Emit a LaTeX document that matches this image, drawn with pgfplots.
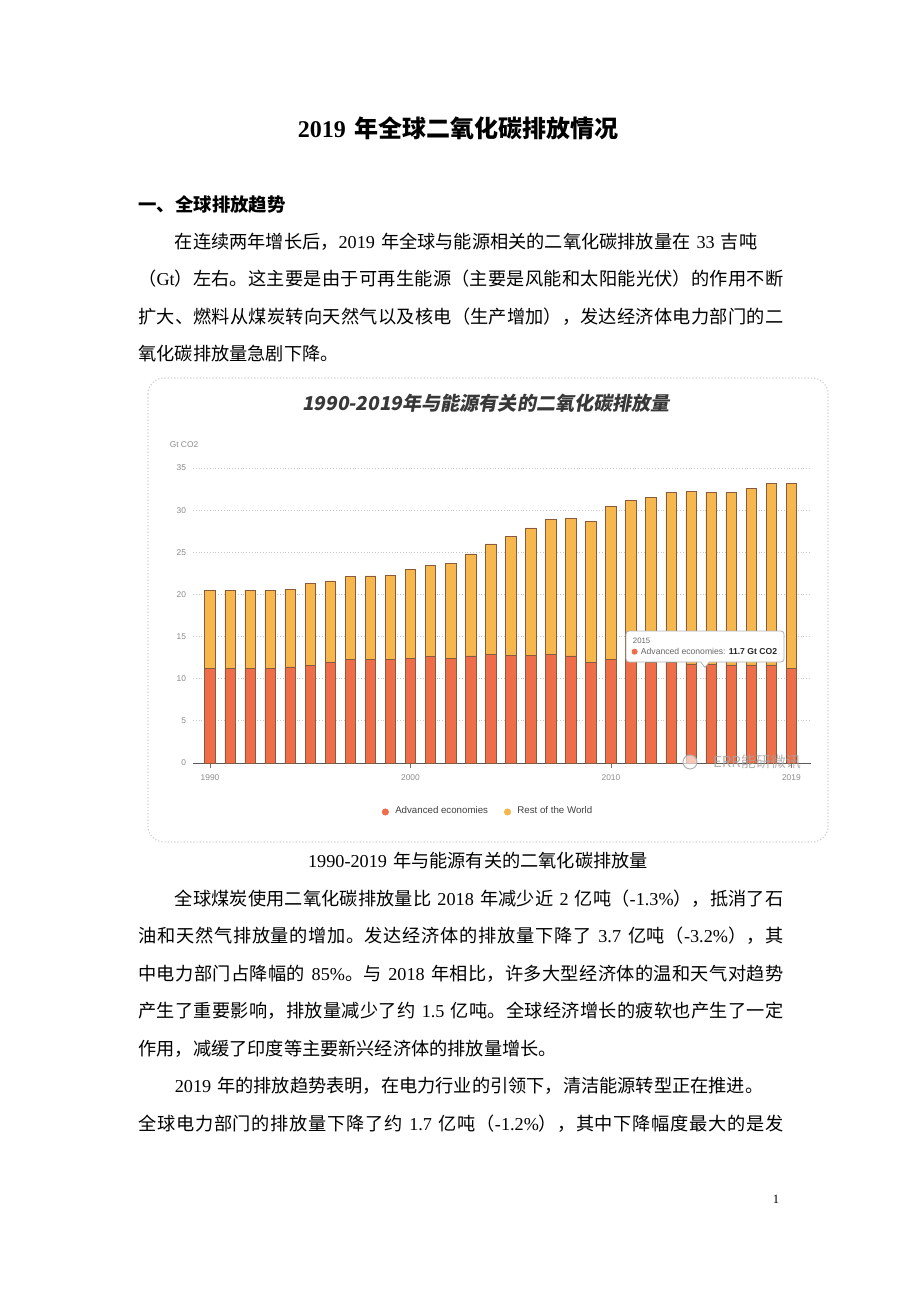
\documentclass[border=0pt]{standalone}
\usepackage{fontspec}
\usepackage{pgfplots}
\pgfplotsset{compat=1.18}
\usepackage{pgfplotstable}
\setmainfont{Noto Sans CJK SC}[WordSpace=1.5]
\newfontfamily\latin{Liberation Serif}
\newfontfamily\chartfont{Liberation Sans}
\newfontfamily\titlecjk[FakeSlant=0.18]{Noto Sans CJK SC}
\newcommand\lt[1]{{\latin #1}}
\XeTeXlinebreaklocale "zh"
\XeTeXlinebreakskip=0pt plus 1.5pt

\definecolor{advcol}{HTML}{EE6E4A}
\definecolor{restcol}{HTML}{F6B74C}
\definecolor{barline}{HTML}{8A5A3C}

\pgfplotstableread{
year adv rest
1990 11.2 9.3
1991 11.2 9.3
1992 11.2 9.3
1993 11.2 9.3
1994 11.4 9.2
1995 11.6 9.7
1996 12.0 9.6
1997 12.25 9.85
1998 12.25 9.95
1999 12.25 10.05
2000 12.45 10.55
2001 12.65 10.75
2002 12.45 11.25
2003 12.7 12.1
2004 12.85 13.15
2005 12.8 14.1
2006 12.8 15.1
2007 12.9 16.0
2008 12.7 16.3
2009 11.9 16.8
2010 12.3 18.1
2011 12.2 19.0
2012 12.0 19.5
2013 12.0 20.15
2014 11.75 20.45
2015 11.7 20.45
2016 11.65 20.5
2017 11.65 20.95
2018 11.65 21.55
2019 11.2 22.0
}\emissions

\begin{document}
\begin{tikzpicture}
\begin{scope}[x=0.5pt,y=-0.5pt]
\path[use as bounding box] (0,0) rectangle (920,1302);
\fill[white] (0,0) rectangle (920,1302);
% page title
\node[anchor=base, inner sep=0pt] at (458,137) {\fontsize{12}{14}\selectfont\bfseries {\latin\bfseries 2019} 年全球二氧化碳排放情况};
% heading
\node[anchor=base west, inner sep=0pt] at (138,211) {\fontsize{9.2}{11}\selectfont\bfseries 一、全球排放趋势};
% paragraph 1
\node[anchor=north west, inner sep=0pt, text width=322.5pt, align=justify] at (138,221.75) {\fontsize{9.1}{18.75}\selectfont\strut\hspace*{2em}在连续两年增长后，\lt{2019} 年全球与能源相关的二氧化碳排放量在 \lt{33} 吉吨\\
（\lt{Gt}）左右。这主要是由于可再生能源（主要是风能和太阳能光伏）的作用不断\linebreak
扩大、燃料从煤炭转向天然气以及核电（生产增加），发达经济体电力部门的二\linebreak
氧化碳排放量急剧下降。\par};
% chart frame
\draw[black!18, densely dotted, rounded corners=8pt, line width=0.6pt] (148,378) rectangle (828,842);
\node[text=black!78] at (486,403) {\titlecjk\bfseries\fontsize{9.55}{11}\selectfont 1990-2019年与能源有关的二氧化碳排放量};
\node[text=black!45] at (184,445) {\chartfont\fontsize{4.2}{5}\selectfont Gt CO2};
% caption
\node[anchor=base, inner sep=0pt] at (478,867) {\fontsize{9.1}{11}\selectfont\lt{1990-2019} 年与能源有关的二氧化碳排放量};
% paragraph 2
\node[anchor=north west, inner sep=0pt, text width=322.5pt, align=justify] at (138,878.75) {\fontsize{9.1}{18.75}\selectfont\strut\hspace*{2em}全球煤炭使用二氧化碳排放量比 \lt{2018} 年减少近 \lt{2} 亿吨（\lt{-1.3\%}），抵消了石\linebreak
油和天然气排放量的增加。发达经济体的排放量下降了 \lt{3.7} 亿吨（\lt{-3.2\%}），其\linebreak
中电力部门占降幅的 \lt{85\%}。与 \lt{2018} 年相比，许多大型经济体的温和天气对趋势\linebreak
产生了重要影响，排放量减少了约 \lt{1.5} 亿吨。全球经济增长的疲软也产生了一定\linebreak
作用，减缓了印度等主要新兴经济体的排放量增长。\par
\hspace*{2em}\lt{2019} 年的排放趋势表明，在电力行业的引领下，清洁能源转型正在推进。\\
全球电力部门的排放量下降了约 \lt{1.7} 亿吨（\lt{-1.2\%}），其中下降幅度最大的是发\parfillskip=0pt\par};
% page number
\node[anchor=base, inner sep=0pt] at (776,1203) {\latin\fontsize{6.3}{7}\selectfont 1};
\end{scope}

\begin{axis}[
  at={(96.5pt,-381.5pt)}, anchor=south west,
  scale only axis, width=309pt, height=147.5pt,
  xmin=1989.15, xmax=2019.98, ymin=0, ymax=35,
  ybar stacked, bar width=5.25pt,
  axis x line*=bottom, axis y line*=left,
  x axis line style={draw=black!65, line width=0.5pt, -},
  y axis line style={draw=none, -},
  xtick={1990,2000,2010,2019}, xticklabels={1990,2000,2010,2019},
  ytick={0,5,...,35},
  ymajorgrids, grid style={densely dotted, black!22, line width=0.4pt},
  tick align=outside, major tick length=2.5pt,
  xtick style={draw=black!55, line width=0.4pt},
  ytick style={draw=none},
  tick label style={font=\chartfont\fontsize{4.2}{5}\selectfont, text=black!45},
  yticklabel style={/pgf/number format/assume math mode=true, xshift=2.5pt},
  xticklabel style={/pgf/number format/assume math mode=true},
  clip=false,
  legend style={at={(0.479,-0.166)}, anchor=center, draw=none, fill=none,
    legend columns=2, font=\chartfont\fontsize{4.85}{6}\selectfont, text=black!75,
    /tikz/every even column/.append style={column sep=6pt}},
  legend cell align=left,
]
\addplot[fill=advcol, draw=barline, line width=0.3pt,
  legend image code/.code={\fill[advcol] (0pt,0pt) circle (1.6pt); \path (2.8pt,0pt);}]
  table[x=year,y=adv]{\emissions};
\addplot[fill=restcol, draw=barline, line width=0.3pt,
  legend image code/.code={\fill[restcol] (0pt,0pt) circle (1.6pt); \path (2.8pt,0pt);}]
  table[x=year,y=rest]{\emissions};
\legend{Advanced economies, Rest of the World}
\end{axis}

\begin{scope}[x=0.5pt,y=-0.5pt]
% tooltip
\node[draw=black!30, fill=white, rounded corners=1.5pt, inner xsep=3pt, inner ysep=2pt,
  align=left, minimum width=79pt, minimum height=15.5pt, text=black!60,
  font=\chartfont\fontsize{4.3}{5.5}\selectfont] (tt)
  at (705,646.5)
  {{\fontsize{3.9}{5}\selectfont 2015}\\\hspace*{4pt}Advanced economies: {\bfseries\color{black!85}11.7 Gt CO2}};
\fill[advcol] ([xshift=4.5pt,yshift=-2.6pt]tt.west) circle (1.5pt);
\fill[white] ([xshift=-2.2pt,yshift=0.5pt]tt.south) -- ([yshift=-2.5pt]tt.south) -- ([xshift=2.2pt,yshift=0.5pt]tt.south) -- cycle;
\draw[black!30] ([xshift=-2pt]tt.south) -- ([yshift=-2.5pt]tt.south) -- ([xshift=2pt]tt.south);
% watermark
\draw[black!30, line width=0.5pt, fill=white, fill opacity=0.6] (690,762) circle (7);
\node[text=black!35, opacity=0.85] at (757,762) {\fontsize{7.5}{8}\selectfont ERR能研微讯};
\end{scope}
\end{tikzpicture}
\end{document}
